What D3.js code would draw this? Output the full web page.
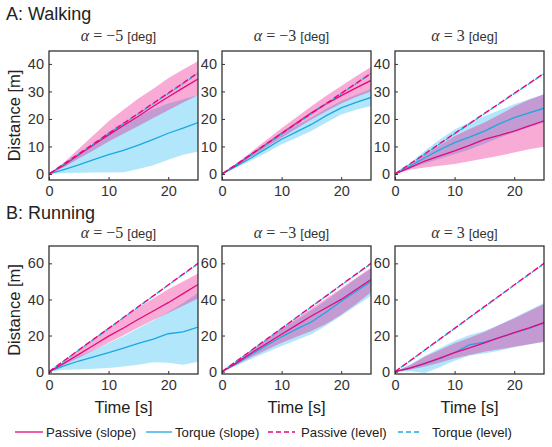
<!DOCTYPE html>
<html><head><meta charset="utf-8">
<script src="https://cdn.jsdelivr.net/npm/d3@7"></script>
<style>body{margin:0;background:#fff}svg{display:block}</style>
</head><body><svg id="c" width="552" height="447"></svg>
<script>
const timeS = [0,2.5,5,7.5,10,12.5,15,17.5,20,22.5,25];
const xTicks = [0,10,20];
const yTicksWalk = [0,10,20,30,40];
const yTicksRun = [0,20,40,60];
const rowTitles = ["A: Walking","B: Running"];
const alphaLabels = ["\u22125","\u22123","3"];
const legendLabels = ["Passive (slope)","Torque (slope)","Passive (level)","Torque (level)"];

// Walking, alpha = -5
const wM5_passiveMean = [0,3.2,7,10.6,14.2,17.6,21,24.6,28,31.3,34.5];
const wM5_passiveLo   = [0,2.4,5.6,8.6,11.8,14.6,17.4,20.3,23.2,26,28.6];
const wM5_passiveHi   = [0,4.2,9.2,14.2,19.2,23.3,27.4,31,34.8,38,41];
const wM5_torqueMean  = [0,1.6,3.3,5.2,7,8.6,10.5,12.6,14.8,16.7,18.7];
const wM5_torqueLo    = [0,0.3,0.4,0.5,0.5,0.6,1.8,3.2,5.2,7,8.2];
const wM5_torqueHi    = [0,3,7,11,15.3,18.5,21,23.5,25.6,27.2,28.6];
const wM5_passiveLevel= [0,3.6,7.3,11,14.7,18.4,22,25.7,29.4,33,36.8];
const wM5_torqueLevel = [0,3.5,7.2,10.9,14.6,18.3,21.9,25.6,29.2,32.9,36.5];
// Walking, alpha = -3
const wM3_passiveMean = [0,3.4,7.2,11,14.8,18.5,22.2,25.5,28.5,31.3,34];
const wM3_passiveLo   = [0,2.9,6.3,9.8,13.2,16.5,19.8,22.8,25.6,28,30];
const wM3_passiveHi   = [0,3.9,8.2,12.4,16.6,20.6,24.6,28.4,32,35.5,38.9];
const wM3_torqueMean  = [0,2.9,6,9.3,12.6,15.3,18,21.2,24,26,27.8];
const wM3_torqueLo    = [0,2.4,5,7.8,10.8,13.2,15.6,18.7,21.6,23.3,24.7];
const wM3_torqueHi    = [0,3.3,7,10.8,14.4,17.5,20.5,23.7,26.5,28.8,31];
const wM3_passiveLevel= [0,3.6,7.3,11,14.7,18.3,22,25.6,29.3,32.9,36.6];
const wM3_torqueLevel = [0,3.5,7.2,10.9,14.6,18.2,21.9,25.5,29.2,32.8,36.5];
// Walking, alpha = 3
const wP3_passiveMean = [0,2.3,4.7,6.6,8.4,10.4,12.6,14,15.6,17.5,19.3];
const wP3_passiveLo   = [0,1.5,2.3,3,3.6,4.6,5.6,6.6,7.8,9,9.9];
const wP3_passiveHi   = [0,3.2,7,10.4,13.8,16.3,18.7,21.5,24.5,27,29];
const wP3_torqueMean  = [0,2.8,5.9,8.8,11.4,13.4,15.6,18.2,20.5,22.2,23.9];
const wP3_torqueLo    = [0,2,3.8,5.5,7.2,8.9,11,13.2,15.2,17,18.7];
const wP3_torqueHi    = [0,3.8,8.4,12.5,16.2,18.8,21,23.2,25.3,27.2,29];
const wP3_passiveLevel= [0,3.6,7.3,11,14.7,18.3,22,25.6,29.3,32.9,36.6];
const wP3_torqueLevel = [0,3.5,7.2,10.9,14.6,18.2,21.9,25.5,29.2,32.8,36.4];
// Running, alpha = -5
const rM5_passiveMean = [0,4.6,9.6,14.6,19.7,24.2,29,33.6,38.2,43.2,48.3];
const rM5_passiveLo   = [0,3.8,7.7,11.8,16,20.2,24.4,28.6,32.5,36.5,40.5];
const rM5_passiveHi   = [0,5.8,12.4,18.4,24.4,29.8,35.4,40.5,45.6,50,54.4];
const rM5_torqueMean  = [0,3.2,5.9,8.2,10.5,13,15.7,18,21,22,24.7];
const rM5_torqueLo    = [0,1,1.2,1.6,2,2.8,3.8,5.2,5,3.8,5.5];
const rM5_torqueHi    = [0,4.2,8.5,12,15.8,19.6,24,28.4,33,38,43.5];
const rM5_passiveLevel= [0,6,12,18,24,30,36,42,48,54,60];
const rM5_torqueLevel = [0,5.9,11.9,17.9,23.9,29.9,35.9,41.9,47.9,53.9,59.8];
// Running, alpha = -3
const rM3_passiveMean = [0,5,10.5,15.6,20.7,25.8,30.8,35.4,40,45.5,51];
const rM3_passiveLo   = [0,4,8.2,12.2,16,19.4,22.5,26.5,31.5,37.5,44];
const rM3_passiveHi   = [0,5.8,12,18,24,29.5,35,40.5,46,52,57.5];
const rM3_torqueMean  = [0,4.6,9.8,14.6,19.3,23.6,27.5,33,39,44.5,50];
const rM3_torqueLo    = [0,3.4,7.2,10.8,14.2,17.6,20.7,25.5,31,36.5,42];
const rM3_torqueHi    = [0,5.6,11.8,17.6,23.5,28.8,34,39.5,45.5,51.5,57];
const rM3_passiveLevel= [0,6,12,18,24,30,36,42,48,54,60];
const rM3_torqueLevel = [0,5.9,11.9,17.9,23.9,29.9,35.9,41.9,47.9,53.9,59.8];
// Running, alpha = 3
const rP3_passiveMean = [0,2,4.6,7.5,10.5,13.2,16,18.8,21.6,24.2,27.1];
const rP3_passiveLo   = [0,1,2.8,5,7.4,9.2,11,12.4,13.8,15.2,16.6];
const rP3_passiveHi   = [0,3.6,8.3,12,15.7,18.8,22,25.8,29.5,33.5,37.5];
const rP3_torqueMean  = [0,2,4.4,7.2,10.6,14.8,16.3,18.8,21.5,24,27];
const rP3_torqueLo    = [0,0.2,-0.8,2.5,6,9,10,11.6,13.5,15,16.5];
const rP3_torqueHi    = [0,3.8,8.8,13,17,20.3,22.5,26,30,34,38];
const rP3_passiveLevel= [0,6,12,18,24,30,36,42,48,54,60];
const rP3_torqueLevel = [0,5.9,11.9,17.9,23.9,29.9,35.9,41.9,47.9,53.9,59.8];

const panels = [
 {row:0,col:0,pm:wM5_passiveMean,pl:wM5_passiveLo,ph:wM5_passiveHi,tm:wM5_torqueMean,tl:wM5_torqueLo,th:wM5_torqueHi,pv:wM5_passiveLevel,tv:wM5_torqueLevel},
 {row:0,col:1,pm:wM3_passiveMean,pl:wM3_passiveLo,ph:wM3_passiveHi,tm:wM3_torqueMean,tl:wM3_torqueLo,th:wM3_torqueHi,pv:wM3_passiveLevel,tv:wM3_torqueLevel},
 {row:0,col:2,pm:wP3_passiveMean,pl:wP3_passiveLo,ph:wP3_passiveHi,tm:wP3_torqueMean,tl:wP3_torqueLo,th:wP3_torqueHi,pv:wP3_passiveLevel,tv:wP3_torqueLevel},
 {row:1,col:0,pm:rM5_passiveMean,pl:rM5_passiveLo,ph:rM5_passiveHi,tm:rM5_torqueMean,tl:rM5_torqueLo,th:rM5_torqueHi,pv:rM5_passiveLevel,tv:rM5_torqueLevel},
 {row:1,col:1,pm:rM3_passiveMean,pl:rM3_passiveLo,ph:rM3_passiveHi,tm:rM3_torqueMean,tl:rM3_torqueLo,th:rM3_torqueHi,pv:rM3_passiveLevel,tv:rM3_torqueLevel},
 {row:1,col:2,pm:rP3_passiveMean,pl:rP3_passiveLo,ph:rP3_passiveHi,tm:rP3_torqueMean,tl:rP3_torqueLo,th:rP3_torqueHi,pv:rP3_passiveLevel,tv:rP3_torqueLevel}
];

const MAG = "#e5097f", CYA = "#1aa7e3";
const BAND_P = "rgba(230,0,126,0.33)", BAND_T = "rgba(0,172,238,0.30)";
const colX = [49,222,395], panelW = 149;
const rowY = [{top:51,bottom:180,dom:[-2.2,44.7],ticks:yTicksWalk,sub:41},
              {top:246,bottom:374,dom:[-1.3,69.6],ticks:yTicksRun,sub:238}];
const svg = d3.select("#c");
const SANS = "'Liberation Sans', Arial, Helvetica, sans-serif";
const SERIF = "'Liberation Serif', 'Times New Roman', serif";

rowTitles.forEach((t,i)=>{
  svg.append("text").attr("x",6).attr("y",i===0?20:219).attr("font-family",SANS)
    .attr("font-size",18).attr("fill","#222").text(t);
});

panels.forEach(p=>{
  const R = rowY[p.row];
  const x0 = colX[p.col];
  const x = d3.scaleLinear().domain([0,25]).range([x0, x0+panelW]);
  const y = d3.scaleLinear().domain(R.dom).range([R.bottom, R.top]);
  const g = svg.append("g");
  const idx = d3.range(timeS.length);
  const area = (lo,hi)=>d3.area().x(i=>x(timeS[i])).y0(i=>y(lo[i])).y1(i=>y(hi[i]));
  const line = arr=>d3.line().x(i=>x(timeS[i])).y(i=>y(arr[i]));
  const clipId = "clip"+p.row+p.col;
  svg.append("clipPath").attr("id",clipId).append("rect")
    .attr("x",x0).attr("y",R.top).attr("width",panelW).attr("height",R.bottom-R.top);
  const pg = g.append("g").attr("clip-path",`url(#${clipId})`);
  pg.append("path").attr("d",area(p.tl,p.th)(idx)).attr("fill",BAND_T);
  pg.append("path").attr("d",area(p.pl,p.ph)(idx)).attr("fill",BAND_P);
  pg.append("path").attr("d",line(p.tm)(idx)).attr("fill","none").attr("stroke",CYA).attr("stroke-width",1.3);
  pg.append("path").attr("d",line(p.pm)(idx)).attr("fill","none").attr("stroke",MAG).attr("stroke-width",1.3);
  pg.append("path").attr("d",line(p.pv)(idx)).attr("fill","none").attr("stroke",MAG).attr("stroke-width",1.5).attr("stroke-dasharray","6,3");
  pg.append("path").attr("d",line(p.tv)(idx)).attr("fill","none").attr("stroke",CYA).attr("stroke-width",1.3).attr("stroke-dasharray","3,6").attr("stroke-dashoffset",-7);

  const ya = g.append("g").attr("transform",`translate(${x0},0)`)
    .call(d3.axisLeft(y).tickValues(R.ticks).tickSize(-3).tickPadding(5).tickFormat(d3.format("d")));
  const xa = g.append("g").attr("transform",`translate(0,${R.bottom})`)
    .call(d3.axisBottom(x).tickValues(xTicks).tickSize(-3).tickPadding(6).tickFormat(d3.format("d")));
  [ya,xa].forEach(a=>{
    a.select(".domain").remove();
    a.selectAll("line").attr("stroke","#333").attr("stroke-width",1);
    a.selectAll("text").attr("font-family",SANS).attr("font-size",14.5).attr("fill","#333");
  });
  g.append("rect").attr("x",x0).attr("y",R.top).attr("width",panelW).attr("height",R.bottom-R.top)
    .attr("fill","none").attr("stroke","#333").attr("stroke-width",1.3);

  const st = g.append("text").attr("x",x0+panelW/2-5).attr("y",R.sub).attr("text-anchor","middle").attr("fill","#333");
  st.append("tspan").attr("font-family",SERIF).attr("font-style","italic").attr("font-size",16).text("\u03b1");
  st.append("tspan").attr("font-family",SERIF).attr("font-size",16).text(" = "+alphaLabels[p.col]+"  ");
  st.append("tspan").attr("font-family",SANS).attr("font-size",13).text("[deg]");

  if(p.col===0){
    svg.append("text").attr("transform",`translate(20,${(R.top+R.bottom)/2}) rotate(-90)`)
      .attr("text-anchor","middle").attr("font-family",SANS).attr("font-size",16.5).attr("fill","#222").text("Distance [m]");
  }
  if(p.row===1){
    svg.append("text").attr("x",x0+panelW/2).attr("y",413).attr("text-anchor","middle")
      .attr("font-family",SANS).attr("font-size",16.5).attr("fill","#222").text("Time [s]");
  }
});

const legX = [[15,43,46],[146,172,175],[268,295,301],[398,421,432]];
const legStyle = [{c:MAG,d:null},{c:CYA,d:null},{c:MAG,d:"5,3"},{c:CYA,d:"5,3"}];
legendLabels.forEach((lab,i)=>{
  const L = svg.append("line").attr("x1",legX[i][0]).attr("x2",legX[i][1]).attr("y1",432).attr("y2",432)
    .attr("stroke",legStyle[i].c).attr("stroke-width",1.3);
  if(legStyle[i].d) L.attr("stroke-dasharray",legStyle[i].d);
  svg.append("text").attr("x",legX[i][2]).attr("y",437).attr("font-family",SANS).attr("font-size",13.2)
    .attr("fill","#222").text(lab);
});
</script></body></html>
